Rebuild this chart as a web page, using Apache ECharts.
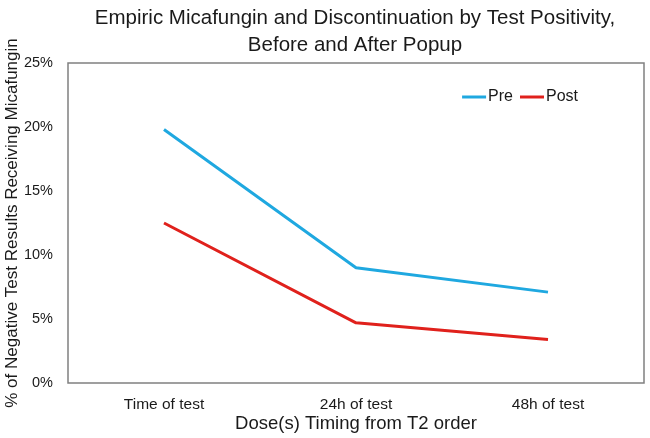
<!DOCTYPE html>
<html>
<head>
<meta charset="utf-8">
<script src="https://cdn.jsdelivr.net/npm/echarts@6/dist/echarts.min.js"></script>
<style>
    html, body {margin: 0; padding: 0; background: #fff;}
    #chart {width: 650px; height: 438px;}
</style>
</head>
<body>
<div id="chart"></div>
<script>
// data
const categories = ['Time of test', '24h of test', '48h of test'];
const preValues = [19.8, 9.0, 7.1];
const postValues = [12.5, 4.7, 3.4];
const yTicks = [0, 5, 10, 15, 20, 25];

const font = 'Liberation Sans, Arial, sans-serif';
const textColor = '#1a1a1a';

const myChart = echarts.init(document.getElementById('chart'));

const options = {
    animation: false,
    title: {
        text: 'Empiric Micafungin and Discontinuation by Test Positivity,\nBefore and After Popup',
        left: 350,
        textAlign: 'center',
        top: 0,
        textStyle: {
            fontFamily: font,
            fontWeight: 'normal',
            fontSize: 20.5,
            lineHeight: 27,
            color: textColor
        }
    },
    legend: {
        right: 67,
        top: 84,
        itemWidth: 24,
        itemHeight: 3,
        itemGap: 7,
        icon: 'rect',
        textStyle: {fontFamily: font, fontSize: 16, color: textColor, padding: [0, 0, 0, -3]},
        data: ['Pre', 'Post']
    },
    grid: {
        left: 68,
        right: 6,
        top: 63,
        bottom: 55,
        containLabel: false,
        outerBoundsMode: 'none',
        show: true,
        borderColor: '#808080',
        borderWidth: 1.5,
        backgroundColor: '#fff'
    },
    xAxis: {
        type: 'category',
        data: categories,
        boundaryGap: true,
        name: 'Dose(s) Timing from T2 order',
        nameLocation: 'middle',
        nameGap: 31,
        nameMoveOverlap: false,
        nameTextStyle: {fontFamily: font, fontSize: 18.5, color: textColor},
        axisLine: {show: false},
        axisTick: {show: false},
        axisLabel: {fontFamily: font, fontSize: 15.5, color: textColor, margin: 14}
    },
    yAxis: {
        type: 'value',
        min: yTicks[0],
        max: yTicks[yTicks.length - 1],
        interval: 5,
        name: '% of Negative Test Results Receiving Micafungin',
        nameLocation: 'middle',
        nameGap: 47,
        nameMoveOverlap: false,
        nameTextStyle: {fontFamily: font, fontSize: 17, color: textColor},
        axisLine: {show: false},
        axisTick: {show: false},
        splitLine: {show: false},
        axisLabel: {
            fontFamily: font, fontSize: 14.5, color: textColor, margin: 15,
            formatter: (v) => v + '%'
        }
    },
    series: [
        {
            name: 'Pre',
            type: 'line',
            data: preValues,
            symbol: 'none',
            color: '#1fa8e0',
            lineStyle: {width: 3, color: '#1fa8e0'}
        },
        {
            name: 'Post',
            type: 'line',
            data: postValues,
            symbol: 'none',
            color: '#e0211c',
            lineStyle: {width: 3, color: '#e0211c'}
        }
    ]
};

myChart.setOption(options);
</script>
</body>
</html>
